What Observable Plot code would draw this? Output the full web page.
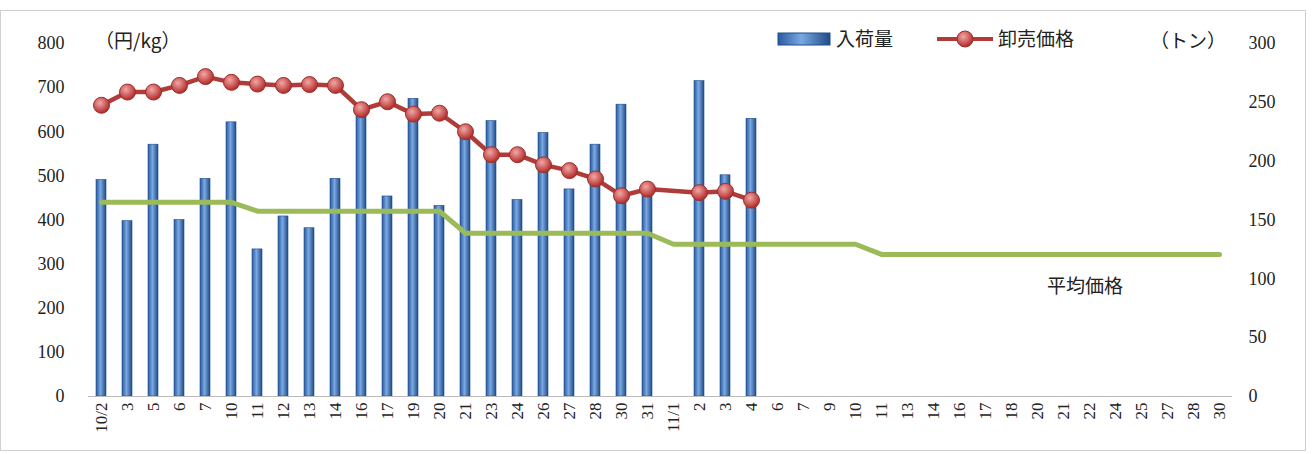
<!DOCTYPE html>
<html><head><meta charset="utf-8">
<script src="https://cdn.jsdelivr.net/npm/d3@7"></script>
<script src="https://cdn.jsdelivr.net/npm/@observablehq/plot@0.6"></script>
<style>
body{margin:0;background:#fff;}
#chart{position:relative;width:1315px;height:454px;}
</style></head><body>
<div id="chart"></div>
<script>
// 日付ラベル
const dates = ["10/2","3","5","6","7","10","11","12","13","14","16","17","19","20","21","23","24","26","27","28","30","31",
  "11/1","2","3","4","6","7","9","10","11","13","14","16","17","18","20","21","22","24","25","27","28","30"];
// 入荷量（トン）
const volume = [184,149,214,150,185,233,125,153,143,185,244,170,253,162,223,234,167,224,176,214,248,174,null,268,188,236];
// 卸売価格（円/kg）
const price = [660,690,690,705,725,712,708,705,707,705,650,668,640,642,600,548,548,525,512,493,455,470,null,462,465,445];
// 平均価格（円/kg）
const avgPrice = [440,440,440,440,440,440,420,420,420,420,420,420,420,420,370,370,370,370,370,370,370,370,
  345,345,345,345,345,345,345,345,322,322,322,322,322,322,322,322,322,322,322,322,322,322];

const keys = dates.map((d, i) => i + "|" + d);
const scale = 800 / 300;
const bars = keys.map((k, i) => ({k, v: volume[i]})).filter(d => d.v != null);
const pts = keys.map((k, i) => ({k, v: price[i]})).filter(d => d.v != null);
const avg = keys.map((k, i) => ({k, v: avgPrice[i]}));

const chart = Plot.plot({
  width: 1315, height: 454,
  marginLeft: 88, marginRight: 83, marginTop: 43, marginBottom: 58,
  style: {fontSize: "17px", color: "#222"},
  x: {domain: keys, paddingInner: 0.6, paddingOuter: 0.2, label: null},
  y: {domain: [0, 800], label: null},
  marks: [
    Plot.axisX({tickRotate: -90, tickSize: 0, tickFormat: k => k.split("|")[1], fontSize: 17, tickPadding: 6, label: null}),
    Plot.axisY({ticks: d3.range(0, 801, 100), tickSize: 0, tickPadding: 24, label: null, fontSize: 18}),
    Plot.axisY({anchor: "right", ticks: d3.range(0, 7).map(i => i * 50 * scale), tickFormat: d => Math.round(d / scale),
      tickSize: 0, tickPadding: 16, label: null, fontSize: 18}),
    Plot.barY(bars, {x: "k", y: d => d.v * scale, fill: "url(#barg)", stroke: "#1f4e8c", strokeWidth: 0.6}),
    Plot.ruleY([0], {stroke: "#bbb"}),
    Plot.line(avg, {x: "k", y: "v", stroke: "#9bbb59", strokeWidth: 5}),
    Plot.line(pts, {x: "k", y: "v", stroke: "#b03c3a", strokeWidth: 4.5}),
    Plot.dot(pts, {x: "k", y: "v", r: 8, fill: "url(#dotg)", stroke: "#9b2f2c", strokeWidth: 1})
  ]
});

const svg = d3.select(chart);
svg.selectAll("text").style("font-family", "'Liberation Serif', 'DejaVu Serif', serif");
const defs = svg.insert("defs", ":first-child");
const bg = defs.append("linearGradient").attr("id", "barg").attr("x1", 0).attr("x2", 1).attr("y1", 0).attr("y2", 0);
bg.append("stop").attr("offset", "0%").attr("stop-color", "#2a5aa0");
bg.append("stop").attr("offset", "45%").attr("stop-color", "#7aa8e0");
bg.append("stop").attr("offset", "100%").attr("stop-color", "#1f4a8a");
const dg = defs.append("radialGradient").attr("id", "dotg").attr("cx", "40%").attr("cy", "35%").attr("r", "65%");
dg.append("stop").attr("offset", "0%").attr("stop-color", "#f2a7a5");
dg.append("stop").attr("offset", "100%").attr("stop-color", "#b02a28");

svg.append("rect").attr("x", 0.5).attr("y", 10.5).attr("width", 1305).attr("height", 440)
  .attr("fill", "none").attr("stroke", "#d0d0d0");

const jp = "'Noto Sans CJK JP', serif";
const txt = (x, y, s, anchor = "start") => svg.append("text").attr("x", x).attr("y", y).attr("text-anchor", anchor)
  .attr("font-size", 19).style("font-family", jp).attr("fill", "#222").text(s);
txt(95, 48, "（円/kg）");
txt(1150, 48, "（トン）");
txt(1085, 293, "平均価格", "middle");
// 凡例
svg.append("rect").attr("x", 778).attr("y", 33).attr("width", 52).attr("height", 12).attr("fill", "url(#barg)").attr("stroke", "#1f4e8c");
txt(836, 46, "入荷量");
svg.append("line").attr("x1", 937).attr("x2", 993).attr("y1", 39).attr("y2", 39).attr("stroke", "#b03c3a").attr("stroke-width", 4);
svg.append("circle").attr("cx", 965).attr("cy", 39).attr("r", 8).attr("fill", "url(#dotg)").attr("stroke", "#9b2f2c");
txt(998, 46, "卸売価格");

d3.select('#chart').append(() => chart);
</script>
</body></html>
